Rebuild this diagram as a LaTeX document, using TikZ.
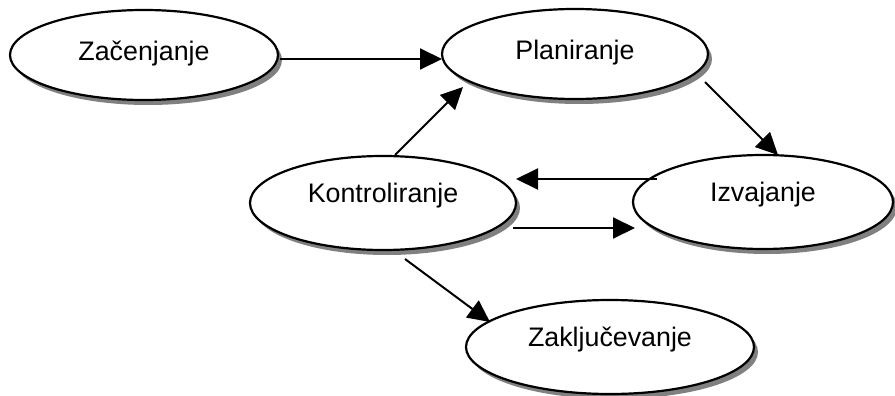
\documentclass[tikz,border=0pt]{standalone}
\usepackage{fontspec}
\setmainfont{Liberation Sans}
\usetikzlibrary{shapes.geometric,shadows,arrows.meta,calc}

\tikzset{
  phase/.style={ellipse, draw=black, line width=1.1pt, fill=white,
    inner sep=0pt, font=\fontsize{13.4}{15}\selectfont,
    text height=10pt,
    drop shadow={shadow xshift=2pt, shadow yshift=-2.5pt, fill=black!50, opacity=1}},
  upper/.style={text depth=4.6pt},
  lower/.style={text depth=10.6pt},
  flow/.style={line width=1pt, -{Triangle[length=11pt,width=10.5pt]}}
}

\begin{document}
\begin{tikzpicture}[x=0.5pt, y=-0.5pt]
  \useasboundingbox (0,0) rectangle (895,396);

  % phases of the process
  \node[phase, upper, minimum width=134pt, minimum height=45pt] (zac) at (144,55) {Začenjanje};
  \node[phase, upper, minimum width=133pt, minimum height=45pt] (pla) at (575,54) {Planiranje};
  \node[phase, lower, minimum width=133pt, minimum height=47pt] (kon) at (383,203) {Kontroliranje};
  \node[phase, lower, minimum width=130pt, minimum height=47pt] (izv) at (763,202) {Izvajanje};
  \node[phase, lower, minimum width=144pt, minimum height=47pt] (zak) at (610,347) {Zaključevanje};

  % transitions
  \draw[flow] ($(zac.center)+(136,4)$) -- ($(pla.center)+(-133,5)$);
  \draw[flow] ($(kon.center)+(12,-48)$) -- ($(pla.center)+(-112,33)$);
  \draw[flow] ($(pla.center)+(130,28)$) -- ($(izv.center)+(15,-47)$);
  \draw[flow] ($(izv.center)+(-106,-23)$) -- ($(kon.center)+(133,-24)$);
  \draw[flow] ($(kon.center)+(130,25)$) -- ($(izv.center)+(-128,26)$);
  \draw[flow] ($(kon.center)+(22,56)$) -- ($(zak.center)+(-120,-25)$);
\end{tikzpicture}
\end{document}
